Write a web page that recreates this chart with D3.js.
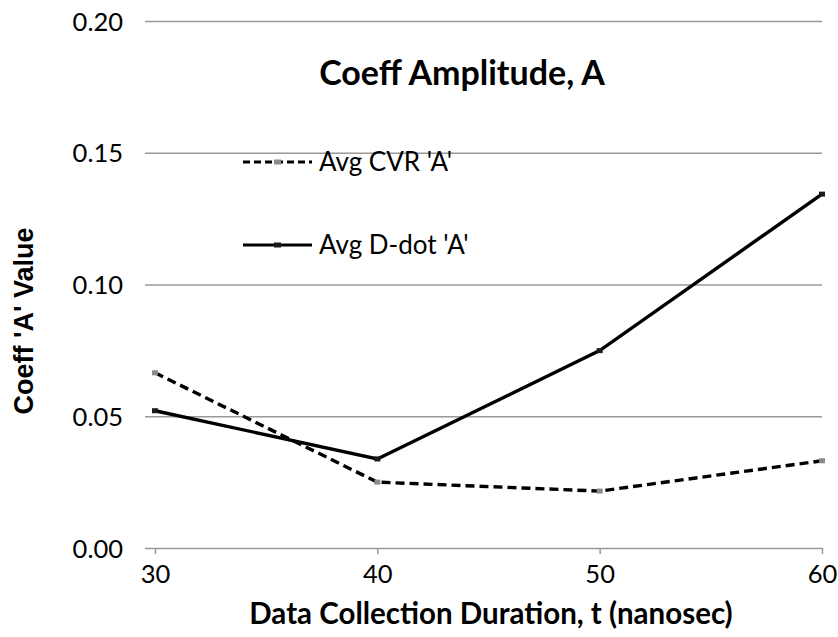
<!DOCTYPE html>
<html>
<head>
<meta charset="utf-8">
<script src="https://cdn.jsdelivr.net/npm/d3@7"></script>
<style>
  html, body { margin: 0; padding: 0; background: #fff; }
  svg text { font-family: Lato, "Open Sans", sans-serif; fill: #000; }
  svg text.ylabel { font-family: "Liberation Sans", Arial, sans-serif; }
</style>
</head>
<body>
<svg id="chart" width="838" height="637"></svg>
<script>
// Sampling durations (ns) and the averaged 'A' coefficients per method
const durations = [30, 40, 50, 60];
const cvrA = [0.0665, 0.0250, 0.0216, 0.0331];
const ddotA = [0.0521, 0.0338, 0.0749, 0.1343];
const xTicks = [30, 40, 50, 60];
const yTicks = [0.00, 0.05, 0.10, 0.15, 0.20];

const series = [
  { name: "Avg CVR 'A'", values: cvrA, dash: "9,5", marker: "#8a8a8a" },
  { name: "Avg D-dot 'A'", values: ddotA, dash: null, marker: "#1a1a1a" }
];

const svg = d3.select("#chart");
const margin = { left: 155, right: 16, top: 21, bottom: 89 };
const W = 838, H = 637;

const x = d3.scaleLinear().domain([30, 60]).range([margin.left, W - margin.right]);
const y = d3.scaleLinear().domain([0, 0.2]).range([H - margin.bottom, margin.top]);

const gridColor = "#989898";

// Horizontal gridlines with left tick stubs
const yAxis = d3.axisLeft(y)
  .tickValues(yTicks)
  .tickFormat(d3.format(".2f"))
  .tickSize(-(x.range()[1] - x.range()[0]))
  .tickPadding(32);
const gy = svg.append("g").attr("transform", `translate(${margin.left},0)`).call(yAxis);
gy.select(".domain").remove();
gy.selectAll(".tick line").attr("stroke", gridColor).attr("stroke-width", 1.5).attr("x1", -10);
gy.selectAll(".tick text").attr("font-size", 25.5).attr("dy", "0.36em");

// Vertical gridlines with bottom tick stubs
const xAxis = d3.axisBottom(x)
  .tickValues(xTicks)
  .tickFormat(d3.format("d"))
  .tickSize(-(y.range()[0] - y.range()[1]))
  .tickPadding(30);
const gx = svg.append("g").attr("transform", `translate(0,${y(0)})`).call(xAxis);
gx.select(".domain").remove();
gx.selectAll(".tick line").attr("stroke", gridColor).attr("stroke-width", 1.5).attr("y2", 6);
gx.selectAll(".tick text").attr("font-size", 25.5).attr("dy", "0.2em");

// Data lines
const line = d3.line().x((d, i) => x(durations[i])).y(d => y(d));
series.forEach(s => {
  svg.append("path")
    .datum(s.values)
    .attr("fill", "none")
    .attr("stroke", "#000")
    .attr("stroke-width", 3.4)
    .attr("stroke-dasharray", s.dash)
    .attr("d", line);
  // small point markers
  svg.append("g").selectAll("rect")
    .data(s.values)
    .join("rect")
    .attr("x", (d, i) => x(durations[i]) - 3)
    .attr("y", d => y(d) - 2.5)
    .attr("width", 6).attr("height", 5)
    .attr("fill", s.marker);
});

// Title
svg.append("text")
  .attr("x", 462).attr("y", 85)
  .attr("text-anchor", "middle")
  .attr("font-size", 34).attr("font-weight", "bold")
  .text("Coeff Amplitude, A");

// Legend
const legendY = [162, 245];
series.forEach((s, i) => {
  const g = svg.append("g").attr("transform", `translate(0,${legendY[i]})`);
  g.append("line")
    .attr("x1", 243).attr("x2", 312).attr("y1", 0).attr("y2", 0)
    .attr("stroke", "#000").attr("stroke-width", 3)
    .attr("stroke-dasharray", s.dash ? "7,4" : null);
  g.append("rect")
    .attr("x", 274).attr("y", -2.5).attr("width", 7).attr("height", 5)
    .attr("fill", s.marker);
  g.append("text")
    .attr("x", 319).attr("y", 9)
    .attr("font-size", 26)
    .text(s.name);
});

// Axis titles
svg.append("text")
  .attr("x", 491).attr("y", 624)
  .attr("text-anchor", "middle")
  .attr("font-size", 29.5).attr("font-weight", "bold")
  .text("Data Collection Duration, t (nanosec)");

svg.append("text")
  .attr("class", "ylabel")
  .attr("transform", "translate(33,321) rotate(-90)")
  .attr("text-anchor", "middle")
  .attr("font-size", 27).attr("font-weight", "bold")
  .text("Coeff 'A' Value");
</script>
</body>
</html>
